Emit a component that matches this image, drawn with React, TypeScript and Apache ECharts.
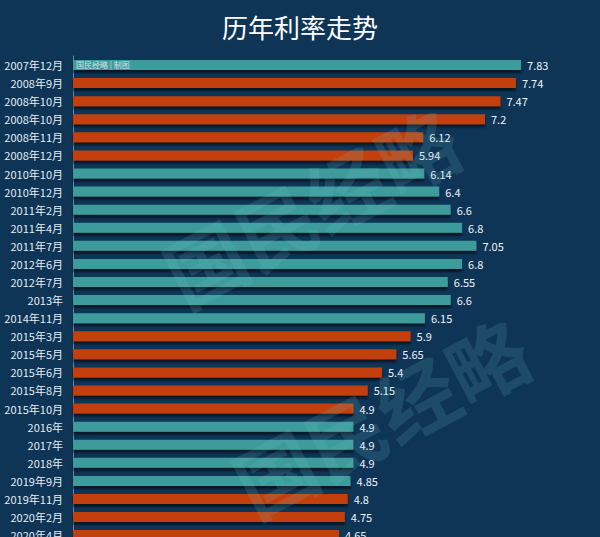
import React, { useEffect, useRef } from "react";
import * as echarts from "echarts";

const categories = [
  "2007年12月", "2008年9月", "2008年10月", "2008年10月", "2008年11月", "2008年12月",
  "2010年10月", "2010年12月", "2011年2月", "2011年4月", "2011年7月", "2012年6月",
  "2012年7月", "2013年", "2014年11月", "2015年3月", "2015年5月", "2015年6月",
  "2015年8月", "2015年10月", "2016年", "2017年", "2018年", "2019年9月",
  "2019年11月", "2020年2月", "2020年4月",
];
const rates = [
  7.83, 7.74, 7.47, 7.2, 6.12, 5.94,
  6.14, 6.4, 6.6, 6.8, 7.05, 6.8,
  6.55, 6.6, 6.15, 5.9, 5.65, 5.4,
  5.15, 4.9, 4.9, 4.9, 4.9, 4.85,
  4.8, 4.75, 4.65,
];
// "up" = rate raised / held (teal), "down" = rate cut (orange)
const direction = [
  "up", "down", "down", "down", "down", "down",
  "up", "up", "up", "up", "up", "up",
  "up", "up", "up", "down", "down", "down",
  "down", "down", "up", "up", "up", "up",
  "down", "down", "down",
];

const TEAL = "#3d9b9b";
const ORANGE = "#c3400e";
const BG = "#0e3456";

export default function App() {
  const ref = useRef<HTMLDivElement>(null);
  useEffect(() => {
    if (!ref.current) return;
    const chart = echarts.init(ref.current, null, { renderer: "svg" });
    const font = '"Noto Sans CJK SC", "Noto Sans", sans-serif';
    chart.setOption({
      animation: false,
      backgroundColor: BG,
      title: {
        text: "历年利率走势",
        left: "center",
        top: 8,
        textStyle: { color: "#ffffff", fontSize: 26, fontWeight: "normal", fontFamily: font },
      },
      grid: { left: 73, right: 12, top: 56, height: 27 * 18.08 },
      xAxis: {
        type: "value",
        min: 0,
        max: 9,
        show: false,
      },
      yAxis: {
        type: "category",
        inverse: true,
        data: categories,
        axisLine: { show: true, lineStyle: { color: "#5f8aa6", width: 1 } },
        axisTick: { show: false },
        axisLabel: { color: "#e4edf4", fontSize: 11, margin: 10, fontFamily: font },
        splitLine: { show: false },
      },
      series: [
        {
          type: "bar",
          barWidth: 10,
          data: rates.map((v, i) => ({
            value: v,
            itemStyle: { color: direction[i] === "up" ? TEAL : ORANGE },
          })),
          itemStyle: {
            shadowColor: "rgba(0,0,0,0.55)",
            shadowOffsetY: 3,
            shadowBlur: 2,
          },
          label: {
            show: true,
            position: "right",
            distance: 6,
            color: "#eef3f8",
            fontSize: 11,
            fontFamily: font,
          },
        },
      ],
      graphic: [
        {
          type: "text",
          left: 76,
          top: 60,
          z: 100,
          style: { text: "国民经略 | 制图", fill: "rgba(235,240,245,0.85)", fontSize: 8, fontFamily: font },
        },
        {
          type: "text",
          x: 310,
          y: 205,
          rotation: (28 * Math.PI) / 180,
          z: 100,
          style: {
            text: "国民经略",
            fill: "rgba(120,200,200,0.16)",
            fontSize: 80,
            fontWeight: "bold",
            fontFamily: font,
            align: "center",
            verticalAlign: "middle",
          },
        },
        {
          type: "text",
          x: 380,
          y: 415,
          rotation: (28 * Math.PI) / 180,
          z: 100,
          style: {
            text: "国民经略",
            fill: "rgba(120,200,200,0.16)",
            fontSize: 80,
            fontWeight: "bold",
            fontFamily: font,
            align: "center",
            verticalAlign: "middle",
          },
        },
      ],
    });
    return () => chart.dispose();
  }, []);
  return (
    <div style={{ position: "fixed", left: 0, top: 0, width: 600, height: 537, overflow: "hidden" }}>
      <div ref={ref} style={{ width: 600, height: 560 }} />
    </div>
  );
}
